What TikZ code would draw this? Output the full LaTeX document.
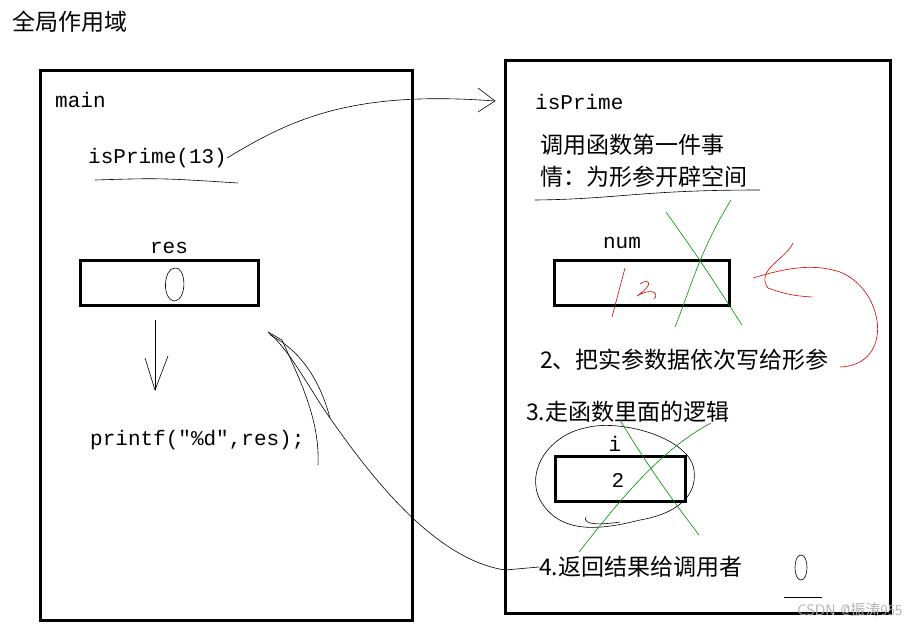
\documentclass[tikz,border=0pt]{standalone}
\usepackage{fontspec}
\setmainfont{Liberation Serif}
\newfontfamily\cjk{Noto Sans CJK SC}
\newfontfamily\code{Liberation Mono}
\usetikzlibrary{arrows.meta}
\tikzset{
 frame/.style={draw,line width=3pt},
 var/.style={draw,line width=3pt,minimum width=#1,minimum height=45pt,inner sep=0pt},
 cd/.style={font=\code\fontsize{21}{21}\selectfont,anchor=west,inner sep=0pt},
 zh/.style={font=\cjk\fontsize{23}{32}\selectfont,anchor=west,inner sep=0pt,align=left},
 pen/.style={line width=0.6pt},
 grn/.style={draw=green!55!black,line width=0.6pt},
 red/.style={draw=red!85!black,line width=0.6pt},
}
\begin{document}
\begin{tikzpicture}[x=1pt,y=-1pt]
\useasboundingbox (0,0) rectangle (921,627);
\node[zh] (title) at (12,22) {全局作用域};
% main frame
\draw[frame] (40,70) rectangle (412,620);
\node[cd] (main) at (55,100) {main};
\node[cd] (call) at (88,158) {isPrime(13)};
\draw[pen] (95,180) .. controls (160,178) .. (238,183);
\node[cd,anchor=south] (resl) at (169,254) {res};
\node[var=178pt] (res) at (169,283) {};
\draw[pen] (175,268) .. controls (163,268) and (162,300) .. (174,301) .. controls (188,300) and (186,266) .. (175,268);
\coordinate (ds) at (155,320);
\coordinate (de) at (155,390);
\draw[pen] (ds) -- (de);
\draw[pen] (145,358) -- (de) -- (168,356);
\node[cd] (printf) at (90,440) {printf("\%d",res);};
% isPrime frame
\draw[frame] (505,60) rectangle (890,613);
\node[cd] (isp) at (535,102) {isPrime};
\node[zh] (step1) at (540,161) {调用函数第一件事\\情：为形参开辟空间};
\draw[pen] (535,200) .. controls (620,199) and (640,190) .. (760,190);
\node[cd,anchor=south] (numl) at (622,249) {num};
\node[var=175pt] (num) at (642,283) {};
\draw[red] (625,268) -- (612,317);
\draw[red] (640,284) .. controls (648,278) and (656,283) .. (637,296) .. controls (650,288) and (660,292) .. (654,299);
\draw[grn] (666,212) .. controls (700,260) .. (742,325);
\draw[grn] (731,200) .. controls (700,250) and (690,290) .. (675,327);
\coordinate (r1) at (840,367);
\draw[red] (r1) .. controls (895,365) and (885,290) .. (840,272) .. controls (810,262) and (780,270) .. (753,278);
\draw[red] (793,243) .. controls (785,260) and (755,270) .. (768,288) .. controls (790,296) and (800,296) .. (812,297);
\node[zh] (step2) at (540,360) {2、把实参数据依次写给形参};
\node[zh] (step3) at (526,412) {3.走函数里面的逻辑};
\node[cd,anchor=south] (il) at (615,452) {i};
\node[var=130pt] (ivar) at (620,479) {};
\node[font=\code\fontsize{21}{21}\selectfont] (iv) at (618,480) {2};
\draw[pen] (585,428) .. controls (620,418) and (690,438) .. (694,470) .. controls (698,500) and (670,515) .. (640,520) .. controls (600,530) and (560,535) .. (540,500) .. controls (525,470) and (550,435) .. (585,428);
\draw[pen] (586,517) .. controls (582,525) and (600,525) .. (620,522);
\draw[grn] (620,420) .. controls (650,470) and (680,510) .. (699,535);
\draw[grn] (711,423) .. controls (660,450) and (620,500) .. (579,552);
\node[zh] (step4) at (539,567) {4.返回结果给调用者};
\draw[pen] (801,555) .. controls (793,555) and (793,580) .. (801,580) .. controls (809,580) and (809,555) .. (801,555);
\draw[pen] (784,597) -- (822,597);
% connectors
\coordinate (a1) at (495,101);
\draw[pen] (call.east) .. controls (290,120) and (350,90) .. (a1);
\draw[pen] (478,88) -- (a1) -- (478,112);
\coordinate (b1) at (268,332);
\draw[pen] (step4.west) -- (505,570) .. controls (440,560) and (380,490) .. (330,418) .. controls (310,390) and (290,350) .. (b1);
\draw[pen] (b1) -- (282,340) .. controls (300,380) and (320,420) .. (318,465);
\draw[pen] (270,335) .. controls (300,350) and (320,380) .. (330,418);
\node[font=\fontsize{15}{15}\selectfont\sffamily,text=gray!60,anchor=east] (wm) at (906,610) {CSDN @{\cjk 振涛}955};
\end{tikzpicture}
\end{document}
